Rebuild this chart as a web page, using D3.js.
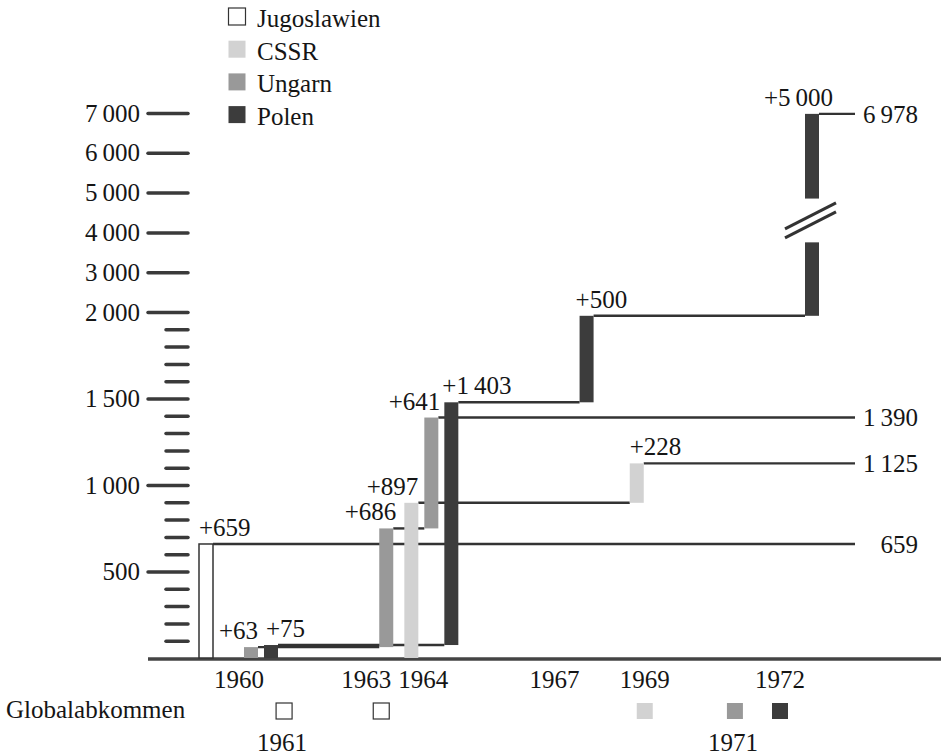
<!DOCTYPE html>
<html>
<head>
<meta charset="utf-8">
<script src="https://cdnjs.cloudflare.com/ajax/libs/d3/7.8.5/d3.min.js"></script>
<style>
  body { margin: 0; background: #fff; }
  svg { font-family: "Liberation Serif", "DejaVu Serif", serif; }
</style>
</head>
<body>
<script>
// data
const countries = ["Jugoslawien", "CSSR", "Ungarn", "Polen"];

// one entry per bar, in drawing order
const barCountry = ["Jugoslawien", "Ungarn", "Polen", "Ungarn", "CSSR", "Ungarn", "Polen", "Polen", "CSSR", "Polen"];
const barYear = [1960, 1960, 1960, 1963, 1964, 1964, 1964, 1967, 1969, 1972];
const barIncrease = [659, 63, 75, 686, 897, 641, 1403, 500, 228, 5000];

// year labels under the axis (two rows)
const yearLabelsTop = [1960, 1963, 1964, 1967, 1969, 1972];
const yearLabelsBottom = [1961, 1971];

// Globalabkommen markers
const globalYear = [1961, 1963, 1969, 1971, 1972];
const globalCountry = ["Jugoslawien", "Jugoslawien", "CSSR", "Ungarn", "Polen"];

// y axis ticks
const yTicksMajor = [500, 1000, 1500, 2000, 3000, 4000, 5000, 6000, 7000];
const yTicksMinor = [100, 200, 300, 400, 600, 700, 800, 900, 1100, 1200, 1300, 1400, 1600, 1700, 1800, 1900];

// ---------- chart ----------
const w = 941;
const h = 756;

const color = {
  Jugoslawien: "#ffffff",
  CSSR: "#d2d2d2",
  Ungarn: "#999999",
  Polen: "#3c3c3c"
};
const ink = "#151515";
const lineColor = "#333";

const fmt = d3.formatLocale({ decimal: ",", thousands: "\u2009", grouping: [3], currency: ["", ""] }).format(",d");

// y: broken scale, fine below 2000, coarse above
const y = d3.scaleLinear().domain([0, 2000, 7000]).range([658, 312, 113]);
const x = d3.scaleLinear().domain([1960, 1972]).range([239, 780]);

// position of a country's bar inside a year group
const slot = { Jugoslawien: -1.25, CSSR: 0, Ungarn: 1, Polen: 2 };
const barW = 14;
const barLeft = (i) => x(barYear[i]) - 8 + slot[barCountry[i]] * 20 - barW / 2;
const lineEnd = 855;

const svg = d3.select("body").append("svg").attr("width", w).attr("height", h);
svg.append("rect").attr("width", w).attr("height", h).attr("fill", "#fff");

// cumulative levels per country
const running = {};
countries.forEach((c) => (running[c] = 0));
const bars = barIncrease.map(function (inc, i) {
  const c = barCountry[i];
  const from = running[c];
  running[c] = from + inc;
  return { i: i, country: c, year: barYear[i], inc: inc, from: from, to: running[c], x0: barLeft(i) };
});

// connecting lines (step from each bar top to the next bar of the same country)
const segments = [];
countries.forEach(function (c) {
  const list = bars.filter((b) => b.country === c);
  list.forEach(function (b, k) {
    const next = list[k + 1];
    segments.push({ x1: b.x0 + barW, x2: next ? next.x0 : lineEnd, v: b.to });
  });
});

svg
  .append("g")
  .selectAll("line")
  .data(segments)
  .enter()
  .append("line")
  .attr("x1", (d) => d.x1)
  .attr("x2", (d) => d.x2)
  .attr("y1", (d) => y(d.v))
  .attr("y2", (d) => y(d.v))
  .attr("stroke", lineColor)
  .attr("stroke-width", 2.4);

// baseline
svg
  .append("line")
  .attr("x1", 148)
  .attr("x2", w)
  .attr("y1", y(0) + 1)
  .attr("y2", y(0) + 1)
  .attr("stroke", "#444")
  .attr("stroke-width", 3.5);

// bars
svg
  .append("g")
  .selectAll("rect")
  .data(bars)
  .enter()
  .append("rect")
  .attr("x", (d) => d.x0)
  .attr("y", (d) => y(d.to))
  .attr("width", barW)
  .attr("height", (d) => y(d.from) - y(d.to))
  .attr("fill", (d) => color[d.country])
  .attr("stroke", (d) => (d.country === "Jugoslawien" ? "#333" : "none"))
  .attr("stroke-width", 1.5);

// break in the tall 1972 bar
const tall = bars[bars.length - 1];
const brLo = y(3750);
const brHi = y(4850);
svg
  .append("rect")
  .attr("x", tall.x0 - 1)
  .attr("y", brHi)
  .attr("width", barW + 2)
  .attr("height", brLo - brHi)
  .attr("fill", "#fff");
const bcx = tall.x0 + barW / 2 - 1;
const bcy = (brLo + brHi) / 2;
svg
  .append("g")
  .selectAll("line")
  .data([-4.5, 4.5])
  .enter()
  .append("line")
  .attr("x1", bcx - 26)
  .attr("y1", (d) => bcy + 13 + d)
  .attr("x2", bcx + 25)
  .attr("y2", (d) => bcy - 13 + d)
  .attr("stroke", "#333")
  .attr("stroke-width", 3);

// bar labels
const labelAnchor = ["start", "end", "start", "end", "end", "end", "start", "start", "start", "end"];
const labelDx = [0, 0, 2, 3, 0, 2, -2, -4, 0, 14];
svg
  .append("g")
  .selectAll("text")
  .data(bars)
  .enter()
  .append("text")
  .attr("x", (d) => (labelAnchor[d.i] === "start" ? d.x0 : d.x0 + barW) + labelDx[d.i])
  .attr("y", (d) => y(d.to) - 8)
  .attr("text-anchor", (d) => labelAnchor[d.i])
  .attr("font-size", 25)
  .attr("fill", ink)
  .text((d) => "+" + fmt(d.inc));

// end labels
const totals = countries.map((c) => ({ country: c, v: running[c] }));
svg
  .append("g")
  .selectAll("text")
  .data(totals)
  .enter()
  .append("text")
  .attr("x", 918)
  .attr("y", (d) => y(d.v))
  .attr("dy", "0.35em")
  .attr("text-anchor", "end")
  .attr("font-size", 25)
  .attr("fill", ink)
  .text((d) => fmt(d.v));

// y axis
const yAxisMajor = d3.axisLeft(y).tickValues(yTicksMajor).tickSize(40).tickPadding(8).tickFormat(fmt);
const yAxisMinor = d3.axisLeft(y).tickValues(yTicksMinor).tickSize(22).tickFormat("");

const gMinor = svg.append("g").attr("transform", "translate(188,0)").call(yAxisMinor);
const gMajor = svg.append("g").attr("transform", "translate(188,0)").call(yAxisMajor);
[gMinor, gMajor].forEach(function (g) {
  g.select(".domain").remove();
  g.selectAll(".tick line")
    .attr("stroke", "#3a3a3a")
    .attr("stroke-width", 3.5)
    .attr("stroke-linecap", "round");
});
gMajor
  .selectAll(".tick text")
  .attr("font-family", "Liberation Serif, serif")
  .attr("font-size", 25)
  .attr("fill", ink);

// year labels
const yearDx = { 1963: -8, 1964: 4 };
svg
  .append("g")
  .selectAll("text")
  .data(yearLabelsTop)
  .enter()
  .append("text")
  .attr("x", (d) => x(d) + (yearDx[d] || 0))
  .attr("y", 688)
  .attr("text-anchor", "middle")
  .attr("font-size", 25)
  .attr("fill", ink)
  .text((d) => d);

svg
  .append("g")
  .selectAll("text")
  .data(yearLabelsBottom)
  .enter()
  .append("text")
  .attr("x", (d) => x(d) - 2)
  .attr("y", 751)
  .attr("text-anchor", "middle")
  .attr("font-size", 25)
  .attr("fill", ink)
  .text((d) => d);

// Globalabkommen row
svg
  .append("text")
  .attr("x", 6)
  .attr("y", 718)
  .attr("font-size", 25)
  .attr("fill", ink)
  .text("Globalabkommen");

const sq = 16;
svg
  .append("g")
  .selectAll("rect")
  .data(globalYear)
  .enter()
  .append("rect")
  .attr("x", (d) => x(d) - sq / 2 + (d === 1963 ? 7 : 0))
  .attr("y", 711 - sq / 2)
  .attr("width", sq)
  .attr("height", sq)
  .attr("fill", (d, i) => color[globalCountry[i]])
  .attr("stroke", (d, i) => (globalCountry[i] === "Jugoslawien" ? "#333" : "none"))
  .attr("stroke-width", 1.2);

// legend
const legend = svg
  .append("g")
  .selectAll("g")
  .data(countries)
  .enter()
  .append("g")
  .attr("transform", (d, i) => "translate(228," + (27 + i * 32.7) + ")");

legend
  .append("rect")
  .attr("x", 0.5)
  .attr("y", -19)
  .attr("width", 17)
  .attr("height", 17)
  .attr("fill", (d) => color[d])
  .attr("stroke", (d) => (d === "Jugoslawien" ? "#333" : "none"))
  .attr("stroke-width", 1.2);

legend
  .append("text")
  .attr("x", 29)
  .attr("y", 0)
  .attr("font-size", 25)
  .attr("fill", ink)
  .text((d) => d);
</script>
</body>
</html>
